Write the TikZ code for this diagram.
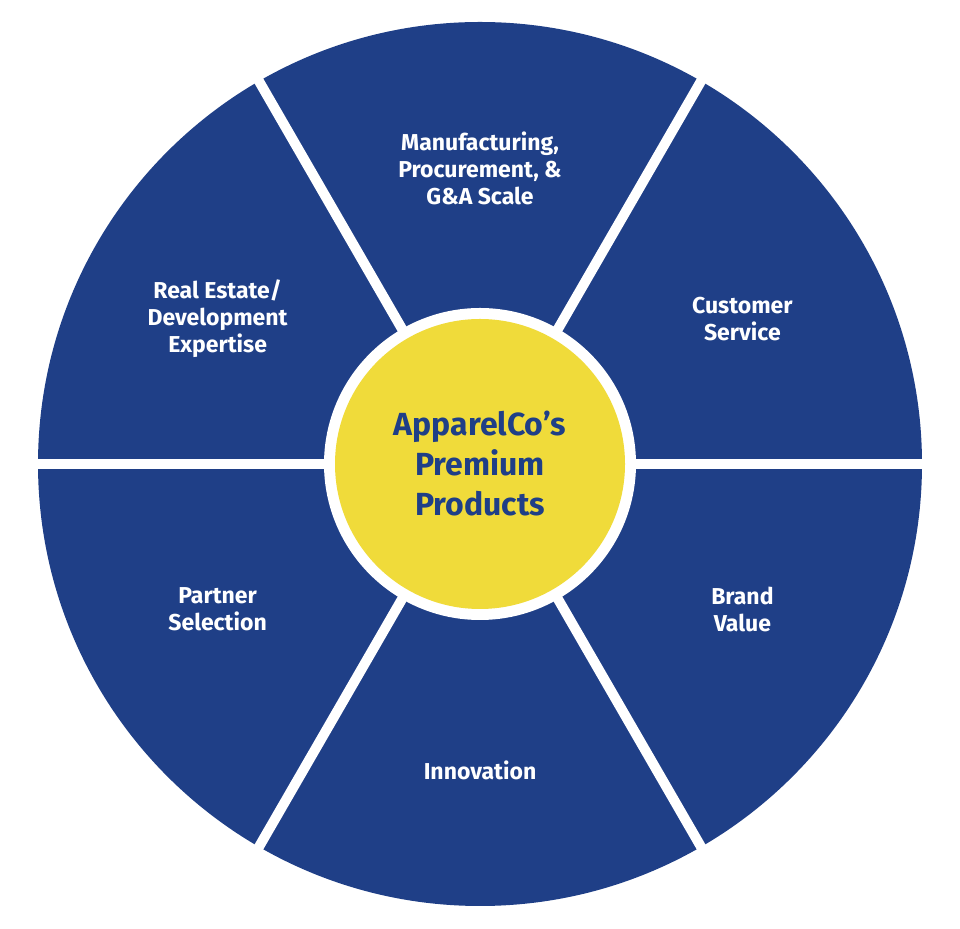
\documentclass[tikz,border=0pt]{standalone}
\usepackage{fontspec}
\setmainfont{Fira Sans}
\usetikzlibrary{calc}
\definecolor{wblue}{HTML}{1F3F87}
\definecolor{wyellow}{HTML}{F0DB3A}
\begin{document}
\begin{tikzpicture}[x=1pt,y=1pt,
  seglabel/.style={text=white,font=\fontsize{23}{27}\selectfont\bfseries,align=center},
  spoke/.style={white,line width=10pt}]
\useasboundingbox (0,0) rectangle (960,928);
\coordinate (c) at (480,464);
\fill[wblue] (c) circle (442);
\foreach \a in {0,60,...,300}{
  \draw[spoke] (c) -- ++(\a:450);
}
\fill[white] (c) circle (156);
\node[circle,fill=wyellow,minimum size=290pt,inner sep=0pt,text=wblue,
  font=\fontsize{32}{40}\selectfont\bfseries,align=center] (hub) at (c)
  {ApparelCo’s\\Premium\\Products};
\node[seglabel] (s1) at ($(c)+(90:296)$) {Manufacturing,\\Procurement, \&\\G\&A Scale};
\node[seglabel] (s2) at ($(c)+(29:300)$) {Customer\\Service};
\node[seglabel] (s3) at ($(c)+(-29:300)$) {Brand\\Value};
\node[seglabel] (s4) at ($(c)+(-90:306)$) {Innovation};
\node[seglabel] (s5) at ($(c)+(-151:300)$) {Partner\\Selection};
\node[seglabel] (s6) at ($(c)+(151:300)$) {Real Estate/\\Development\\Expertise};
\end{tikzpicture}
\end{document}
